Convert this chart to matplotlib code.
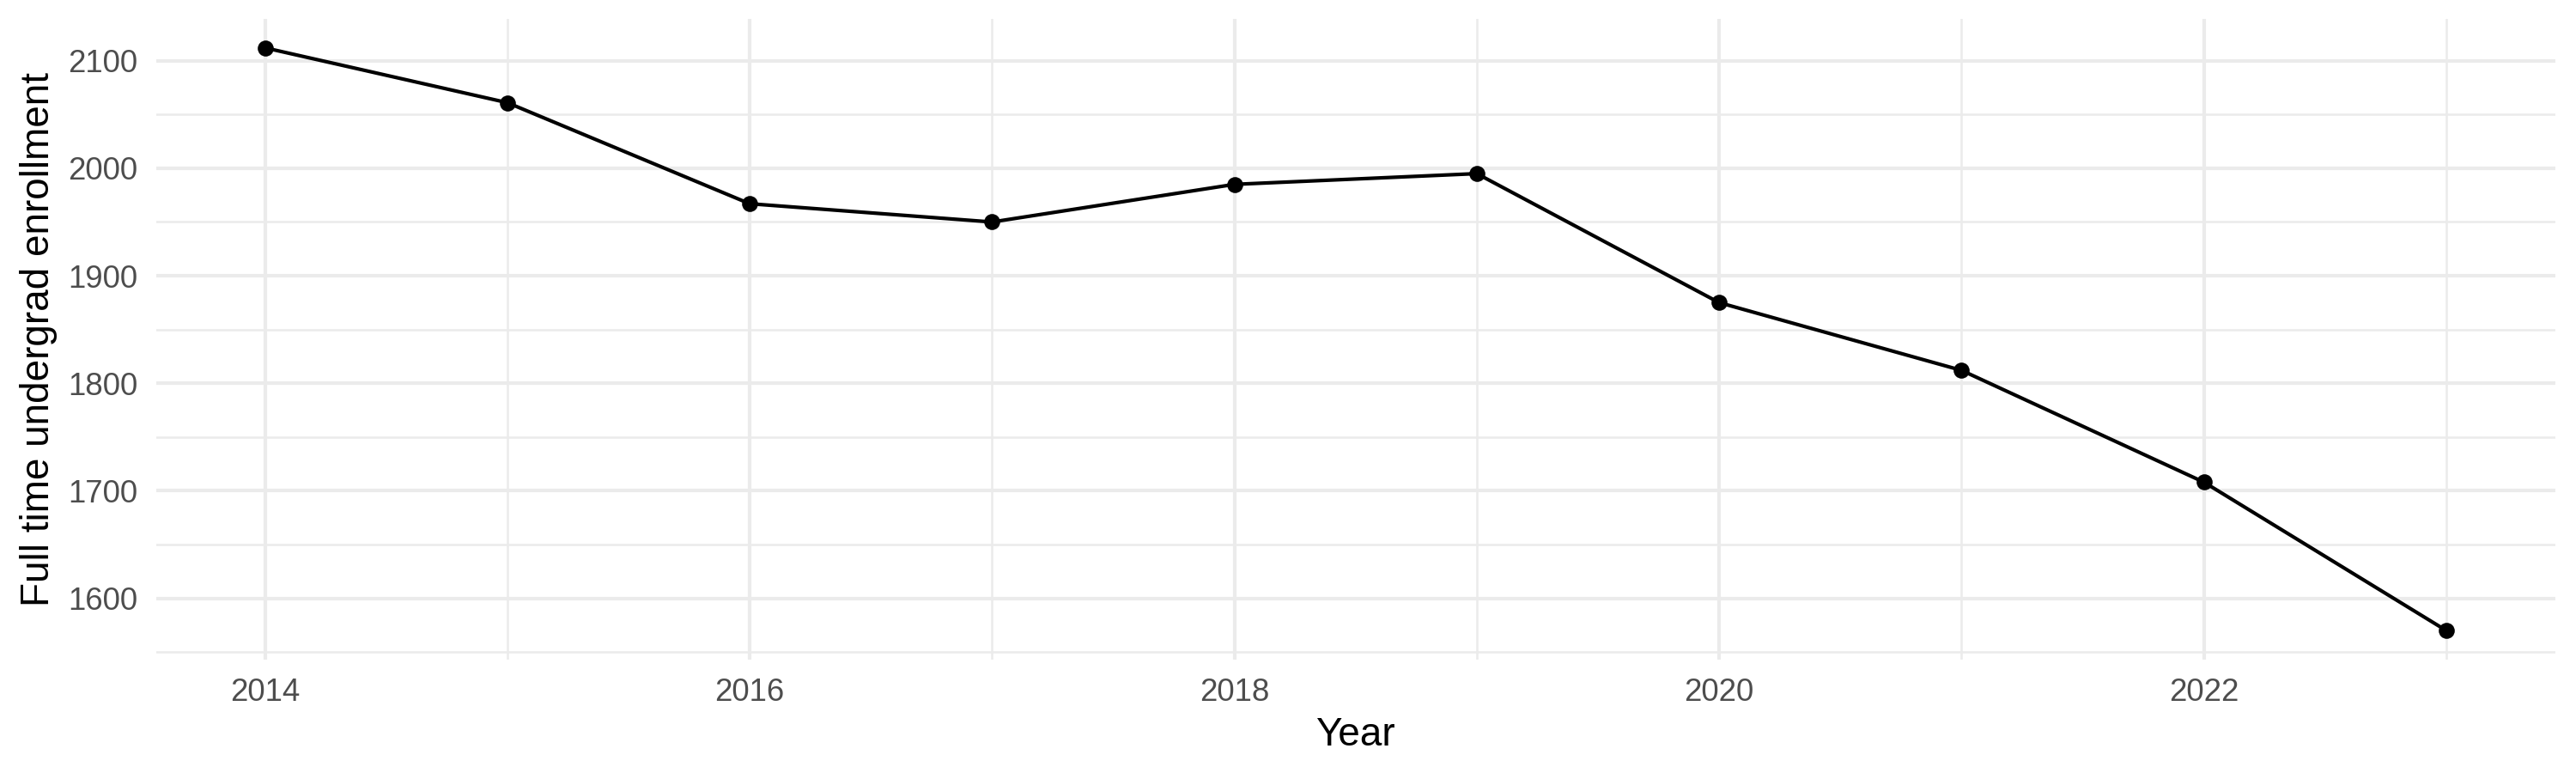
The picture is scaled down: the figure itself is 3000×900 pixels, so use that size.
import matplotlib.pyplot as plt
from matplotlib.ticker import MultipleLocator

years = [2014, 2015, 2016, 2017, 2018, 2019, 2020, 2021, 2022, 2023]
enrollment = [2112, 2061, 1967, 1950, 1985, 1995, 1875, 1812, 1708, 1570]

plt.rcParams['font.family'] = ['Liberation Sans', 'DejaVu Sans']

fig = plt.figure(figsize=(10, 3), dpi=300)
ax = fig.add_axes([0.0605, 0.1467, 0.9315, 0.829])

ax.plot(years, enrollment, color='black', linewidth=1.0, zorder=3)
ax.scatter(years, enrollment, color='black', s=20, zorder=4, linewidths=0)

ax.set_xlim(2013.55, 2023.45)
ax.set_ylim(1543, 2139)

ax.xaxis.set_major_locator(MultipleLocator(2))
ax.xaxis.set_minor_locator(MultipleLocator(1))
ax.yaxis.set_major_locator(MultipleLocator(100))
ax.yaxis.set_minor_locator(MultipleLocator(50))

ax.grid(True, which='major', color='#EBEBEB', linewidth=1.0)
ax.grid(True, which='minor', color='#EBEBEB', linewidth=0.6)
ax.set_axisbelow(True)

for s in ax.spines.values():
    s.set_visible(False)
ax.tick_params(which='both', length=0)
ax.tick_params(axis='both', labelsize=8.8, labelcolor='#4D4D4D', pad=5)

ax.set_xlabel('Year', fontsize=11, labelpad=2.5)
ax.set_ylabel('Full time undergrad enrollment', fontsize=11, labelpad=3)

fig.savefig('out.png', dpi=300)
